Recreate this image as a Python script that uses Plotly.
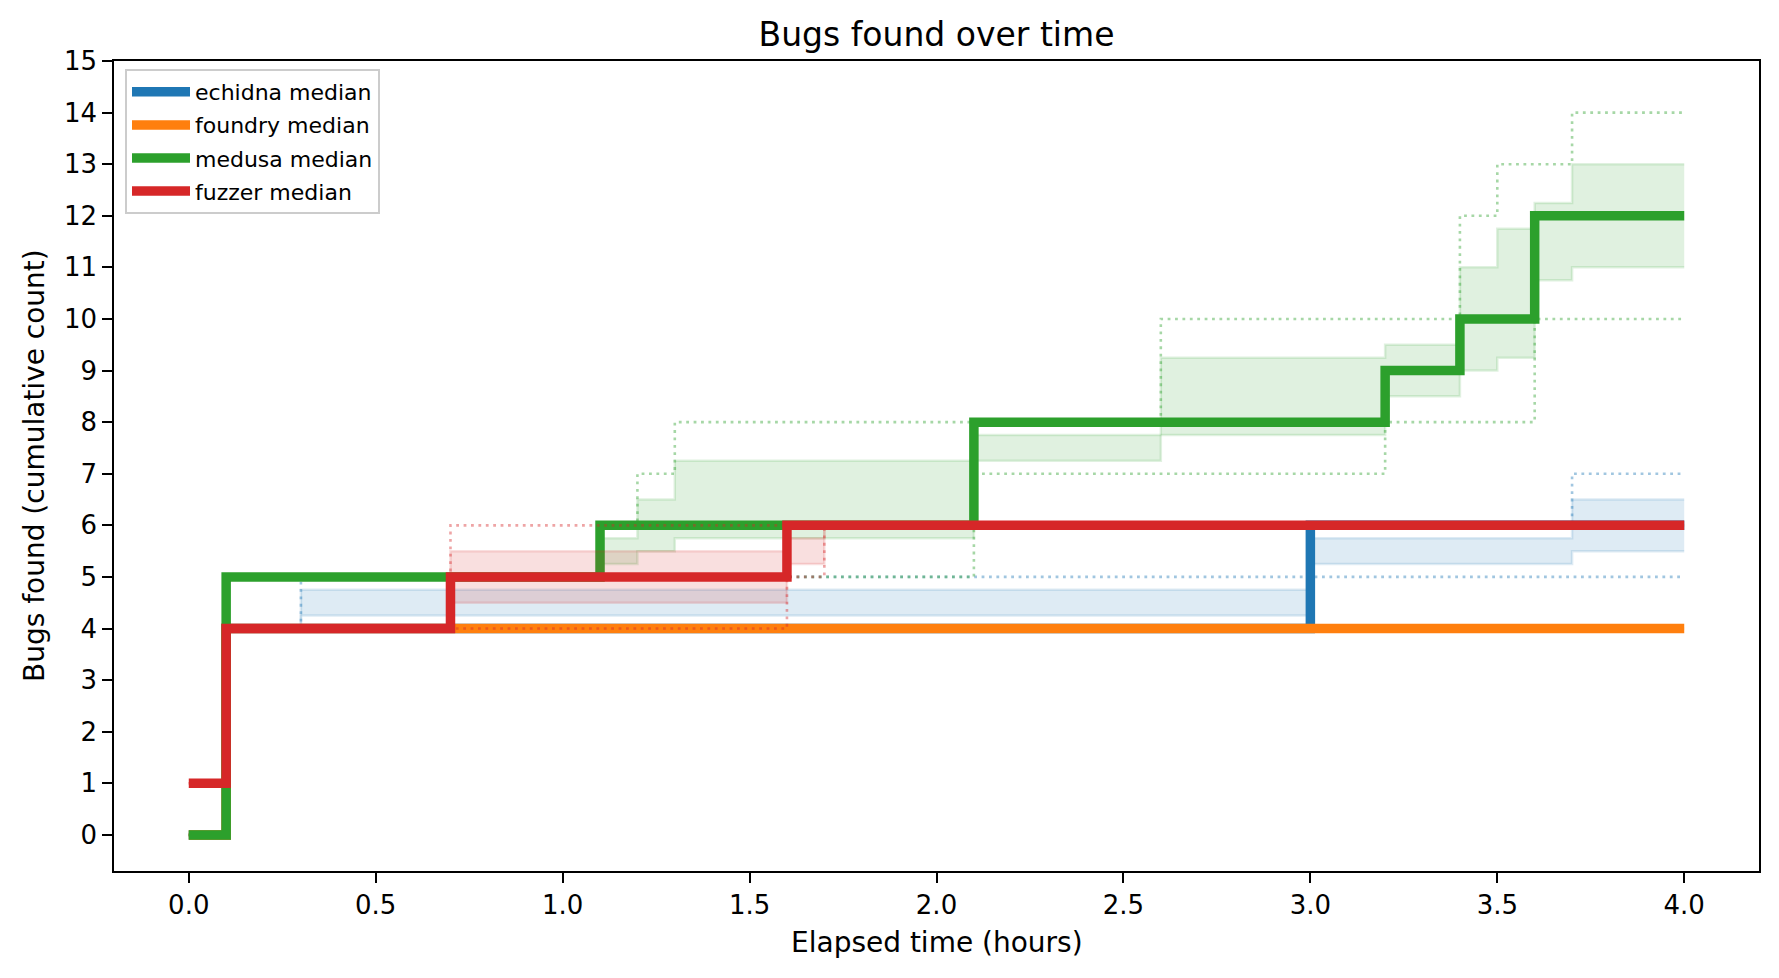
import plotly.graph_objects as go

# ---------------- data ----------------
TOOLS = ["echidna", "foundry", "medusa", "fuzzer"]
COLORS = {"echidna": (31, 119, 180), "foundry": (255, 127, 14),
          "medusa": (44, 160, 44), "fuzzer": (214, 39, 40)}

echidna_time = [0.0, 0.1, 0.3, 3.0, 3.7, 4.0]
echidna_median = [0, 4, 4, 6, 6, 6]
echidna_q1 = [0, 4, 4.25, 5.25, 5.5, 5.5]
echidna_q3 = [0, 4, 4.75, 5.75, 6.5, 6.5]
echidna_min = [0, 4, 4, 5, 5, 5]
echidna_max = [0, 4, 5, 6, 7, 7]

foundry_time = [0.0, 0.1, 4.0]
foundry_median = [0, 4, 4]
foundry_q1 = [0, 4, 4]
foundry_q3 = [0, 4, 4]
foundry_min = [0, 4, 4]
foundry_max = [0, 4, 4]

medusa_time = [0.0, 0.1, 1.1, 1.2, 1.3, 2.1, 2.6, 3.2, 3.4, 3.5, 3.6, 3.7, 4.0]
medusa_median = [0, 5, 6, 6, 6, 8, 8, 9, 10, 10, 12, 12, 12]
medusa_q1 = [0, 5, 5.25, 5.5, 5.75, 7.25, 7.75, 8.5, 9, 9.25, 10.75, 11, 11]
medusa_q3 = [0, 5, 5.75, 6.5, 7.25, 7.75, 9.25, 9.5, 11, 11.75, 12.25, 13, 13]
medusa_min = [0, 5, 5, 5, 5, 7, 7, 8, 8, 8, 10, 10, 10]
medusa_max = [0, 5, 6, 7, 8, 8, 10, 10, 12, 13, 13, 14, 14]

fuzzer_time = [0.0, 0.1, 0.7, 1.6, 1.7, 4.0]
fuzzer_median = [1, 4, 5, 6, 6, 6]
fuzzer_q1 = [1, 4, 4.5, 5.25, 6, 6]
fuzzer_q3 = [1, 4, 5.5, 5.75, 6, 6]
fuzzer_min = [1, 4, 4, 5, 6, 6]
fuzzer_max = [1, 4, 6, 6, 6, 6]

X_TICKS = [0.0, 0.5, 1.0, 1.5, 2.0, 2.5, 3.0, 3.5, 4.0]
Y_TICKS = list(range(0, 16))

SERIES = {
    "echidna": (echidna_time, echidna_median, echidna_q1, echidna_q3, echidna_min, echidna_max),
    "foundry": (foundry_time, foundry_median, foundry_q1, foundry_q3, foundry_min, foundry_max),
    "medusa": (medusa_time, medusa_median, medusa_q1, medusa_q3, medusa_min, medusa_max),
    "fuzzer": (fuzzer_time, fuzzer_median, fuzzer_q1, fuzzer_q3, fuzzer_min, fuzzer_max),
}

FONT = "DejaVu Sans"


def rgba(c, a):
    return f"rgba({c[0]},{c[1]},{c[2]},{a})"


fig = go.Figure()
for tool in TOOLS:
    t, med, q1, q3, mn, mx = SERIES[tool]
    c = COLORS[tool]
    fig.add_trace(go.Scatter(x=t, y=q1, mode="lines", line_shape="hv",
                             line=dict(color=rgba(c, 0.15), width=2.5),
                             showlegend=False, legendgroup=tool, hoverinfo="skip"))
    fig.add_trace(go.Scatter(x=t, y=q3, mode="lines", line_shape="hv", fill="tonexty",
                             fillcolor=rgba(c, 0.15),
                             line=dict(color=rgba(c, 0.15), width=2.5),
                             showlegend=False, legendgroup=tool, hoverinfo="skip"))
    for arr in (mn, mx):
        fig.add_trace(go.Scatter(x=t, y=arr, mode="lines", line_shape="hv",
                                 line=dict(color=rgba(c, 0.42), width=2.6, dash="2.8px,4.6px"),
                                 showlegend=False, legendgroup=tool, hoverinfo="skip"))
    fig.add_trace(go.Scatter(x=t, y=med, mode="lines", line_shape="hv",
                             line=dict(color=rgba(c, 1), width=9.5),
                             name=f"{tool} median", legendgroup=tool))

W, H = 1779, 978
ML, MR, MT, MB = 114, 20, 61, 107
PW, PH = W - ML - MR, H - MT - MB

axis_common = dict(showline=True, linecolor="black", linewidth=2.2, mirror=True,
                   ticks="outside", ticklen=9.7, tickwidth=2.2, tickcolor="black",
                   showgrid=False, zeroline=False,
                   tickfont=dict(family=FONT, size=26, color="black"))

fig.update_layout(
    width=W, height=H,
    margin=dict(l=ML, r=MR, t=MT, b=MB, pad=0),
    paper_bgcolor="white", plot_bgcolor="white",
    font=dict(family=FONT, color="black"),
    title=dict(text="Bugs found over time", font=dict(family=FONT, size=33, color="black"),
               x=ML / W + PW / W / 2, xanchor="center", xref="container",
               y=1 - 34 / H, yanchor="middle", yref="container"),
    xaxis=dict(range=[-0.2, 4.2], tickvals=X_TICKS,
               ticktext=[f"{v:.1f}" for v in X_TICKS], **axis_common),
    yaxis=dict(range=[-0.7, 15], tickvals=Y_TICKS,
               ticktext=[str(v) for v in Y_TICKS], **axis_common),
    legend=dict(x=(125 - ML) / PW, y=1 - (69 - MT) / PH, xanchor="left", yanchor="top",
                bgcolor="rgba(255,255,255,0.8)", bordercolor="#cccccc", borderwidth=2,
                font=dict(family=FONT, size=22, color="black"),
                traceorder="grouped", tracegroupgap=1.5, itemwidth=58),
    annotations=[
        dict(text="Elapsed time (hours)", x=0.5, xref="paper",
             y=-(942 - (MT + PH)) / PH, yref="paper", xanchor="center", yanchor="middle",
             showarrow=False, font=dict(family=FONT, size=28, color="black")),
        dict(text="Bugs found (cumulative count)", x=(34 - ML) / PW, xref="paper",
             y=0.5, yref="paper", xanchor="center", yanchor="middle", textangle=-90,
             showarrow=False, font=dict(family=FONT, size=28, color="black")),
    ],
)

fig.write_html("out.html")
